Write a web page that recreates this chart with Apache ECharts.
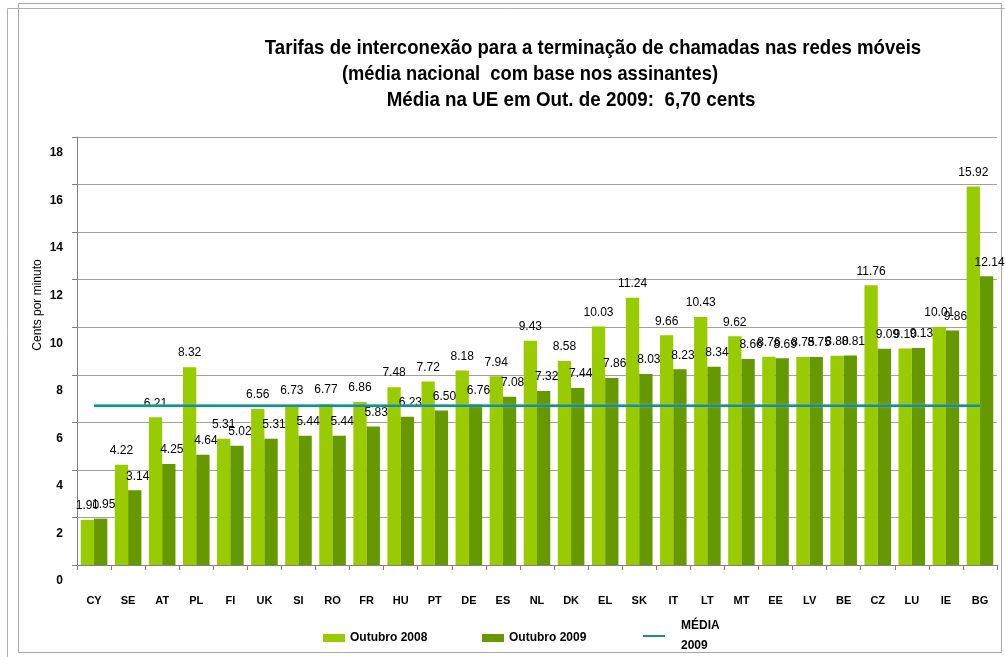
<!DOCTYPE html>
<html>
<head>
<meta charset="utf-8">
<script src="https://cdn.jsdelivr.net/npm/echarts@6/dist/echarts.min.js"></script>
<style>html,body{margin:0;padding:0;background:#fff}#c{width:1005px;height:657px}</style>
</head>
<body>
<div id="c"></div>
<script>
const categories = ['CY','SE','AT','PL','FI','UK','SI','RO','FR','HU','PT','DE','ES','NL','DK','EL','SK','IT','LT','MT','EE','LV','BE','CZ','LU','IE','BG'];
const oct2008 = [1.90,4.22,6.21,8.32,5.31,6.56,6.73,6.77,6.86,7.48,7.72,8.18,7.94,9.43,8.58,10.03,11.24,9.66,10.43,9.62,8.76,8.75,8.80,11.76,9.10,10.01,15.92];
const oct2009 = [1.95,3.14,4.25,4.64,5.02,5.31,5.44,5.44,5.83,6.23,6.50,6.76,7.08,7.32,7.44,7.86,8.03,8.23,8.34,8.66,8.69,8.75,8.81,9.09,9.13,9.86,12.14];
const euAverage2009 = 6.70;
const yTicks = [0,2,4,6,8,10,12,14,16,18];
const titleLines = [
  'Tarifas de interconexão para a terminação de chamadas nas redes móveis',
  '(média nacional  com base nos assinantes)',
  'Média na UE em Out. de 2009:  6,70 cents'
];

const meanData = categories.map(() => euAverage2009);
const chart = echarts.init(document.getElementById('c'), null, {renderer: 'canvas'});
const titleFont = 'bold 21px "Liberation Sans", Arial, sans-serif';
const fmt = p => p.value.toFixed(2);

chart.setOption({
  animation: false,
  backgroundColor: '#fff',
  grid: {left: 77, right: 8, top: 137, bottom: 92, outerBoundsMode: 'none'},
  xAxis: {
    type: 'category',
    data: categories,
    axisLine: {lineStyle: {color: '#808080'}},
    axisTick: {show: true, length: 5, lineStyle: {color: '#808080'}},
    axisLabel: {margin: 30, color: '#000', fontWeight: 'bold', fontSize: 11, fontFamily: 'Liberation Sans, Arial, sans-serif', interval: 0}
  },
  yAxis: {
    type: 'value',
    min: yTicks[0], max: yTicks[yTicks.length - 1], interval: 2,
    axisLine: {show: true, lineStyle: {color: '#808080'}},
    axisTick: {show: true, length: 5, lineStyle: {color: '#808080'}},
    splitLine: {lineStyle: {color: '#a0a0a0'}},
    axisLabel: {margin: 14, color: '#000', fontWeight: 'bold', fontSize: 12, fontFamily: 'Liberation Sans, Arial, sans-serif',
      formatter: v => '{s|' + v + '}',
      rich: {s: {fontWeight: 'bold', fontSize: 12, color: '#000', fontFamily: 'Liberation Sans, Arial, sans-serif', padding: [32, 0, 0, 0]}}}
  },
  legend: [
    {left: 318, top: 620, itemWidth: 22, itemHeight: 8, data: [{name: 'Outubro 2008', icon: 'rect'}],
     textStyle: {fontSize: 12, fontWeight: 'bold', color: '#000', fontFamily: 'Liberation Sans, Arial, sans-serif', padding: [0,0,12,0], lineHeight: 14}},
    {left: 477, top: 620, itemWidth: 22, itemHeight: 8, data: [{name: 'Outubro 2009', icon: 'rect'}],
     textStyle: {fontSize: 12, fontWeight: 'bold', color: '#000', fontFamily: 'Liberation Sans, Arial, sans-serif', padding: [0,0,12,0], lineHeight: 14}},
    {left: 638, top: 611, itemWidth: 22, itemHeight: 2, data: [{name: 'MÉDIA 2009', icon: 'rect'}],
     formatter: () => 'MÉDIA\n2009',
     textStyle: {fontSize: 12, fontWeight: 'bold', color: '#000', fontFamily: 'Liberation Sans, Arial, sans-serif', padding: [0,0,0,11], lineHeight: 20}}
  ],
  series: [
    {name: 'Outubro 2008', type: 'bar', data: oct2008, barGap: '0%', barCategoryGap: '22%',
     itemStyle: {color: '#99CC00'},
     label: {show: true, position: 'top', distance: 8, formatter: fmt, color: '#000', fontSize: 12, fontFamily: 'Liberation Sans, Arial, sans-serif'}},
    {name: 'Outubro 2009', type: 'bar', data: oct2009,
     itemStyle: {color: '#669900'},
     label: {show: true, position: 'top', distance: 8, offset: [3, 0], formatter: fmt, color: '#000', fontSize: 12, fontFamily: 'Liberation Sans, Arial, sans-serif'}},
    {name: 'MÉDIA 2009', type: 'line', data: meanData, symbol: 'none', z: 5,
     itemStyle: {color: '#1f8c8c'},
     lineStyle: {color: '#1f8c8c', width: 2.5, shadowColor: 'rgba(120,200,210,0.9)', shadowBlur: 2}}
  ],
  graphic: [
    {type: 'rect', shape: {x: 7.5, y: 8.5, width: 1100, height: 700}, style: {fill: 'none', stroke: '#b0b0b0', lineWidth: 1}, silent: true},
    {type: 'rect', shape: {x: 18.5, y: 3.5, width: 983, height: 649}, style: {fill: 'none', stroke: '#a8a8a8', lineWidth: 1}, silent: true},
    {type: 'text', x: 593, y: 48, scaleX: 0.886, style: {text: titleLines[0], font: titleFont, fill: '#000', textAlign: 'center', textVerticalAlign: 'middle'}},
    {type: 'text', x: 530, y: 74, scaleX: 0.871, style: {text: titleLines[1], font: titleFont, fill: '#000', textAlign: 'center', textVerticalAlign: 'middle'}},
    {type: 'text', x: 571, y: 100, scaleX: 0.895, style: {text: titleLines[2], font: titleFont, fill: '#000', textAlign: 'center', textVerticalAlign: 'middle'}},
    {type: 'text', x: 38, y: 305, rotation: Math.PI / 2, style: {text: 'Cents por minuto', font: '12px "Liberation Sans", Arial, sans-serif', fill: '#000', textAlign: 'center', textVerticalAlign: 'middle'}}
  ]
});
</script>
</body>
</html>
